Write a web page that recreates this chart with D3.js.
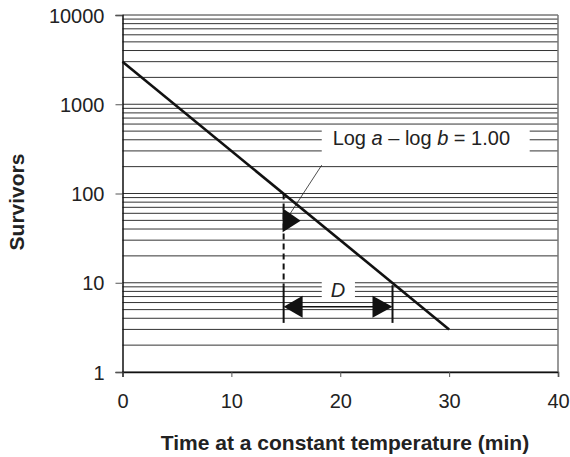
<!DOCTYPE html>
<html>
<head>
<meta charset="utf-8">
<script src="https://cdn.jsdelivr.net/npm/d3@7"></script>
<style>
  body { margin: 0; background: #fff; }
  svg { display: block; font-family: "Liberation Sans", Arial, sans-serif; }
</style>
</head>
<body>
<svg class="canvas" width="570" height="457"></svg>
<script>
// survivor curve (straight line on log scale)
const timeMin = [0, 30];
const survivors = [3000, 3];

// axis ticks
const xTicks = [0, 10, 20, 30, 40];
const yTicks = [1, 10, 100, 1000, 10000];

// horizontal grid: every 1..9 of each decade
const gridValues = [];
[1, 10, 100, 1000].forEach((dec) => {
  for (let m = 1; m < 10; m++) gridValues.push(m * dec);
});
gridValues.push(10000);

// D-value annotation: time where the line passes 100 and 10 survivors
const dTimes = [14.8, 24.8];
const dSurvivors = [100, 10];

const svg = d3.select(".canvas");
const fontSize = "20px";

const x = d3.scaleLinear().domain([0, 40]).range([122.5, 558]);
const y = d3.scaleLog().domain([1, 10000]).range([372, 15]);

// gridlines
svg
  .append("g")
  .selectAll("line")
  .data(gridValues)
  .enter()
  .append("line")
  .attr("x1", x(0))
  .attr("x2", x(40))
  .attr("y1", (d) => y(d))
  .attr("y2", (d) => y(d))
  .attr("stroke", "#333")
  .attr("stroke-width", 1);

// right border
svg
  .append("line")
  .attr("x1", x(40))
  .attr("x2", x(40))
  .attr("y1", y(10000))
  .attr("y2", y(1))
  .attr("stroke", "#777")
  .attr("stroke-width", 1.5);

// white boxes behind the annotation texts
svg
  .append("rect")
  .attr("x", x(18.3))
  .attr("y", y(540))
  .attr("width", x(37.4) - x(18.3))
  .attr("height", y(208) - y(540))
  .attr("fill", "#fff");
svg
  .append("rect")
  .attr("x", x(18.3))
  .attr("y", y(10.8))
  .attr("width", x(21.35) - x(18.3))
  .attr("height", y(6.4) - y(10.8))
  .attr("fill", "#fff");

// axes
const yAxis = d3
  .axisLeft(y)
  .tickValues(yTicks)
  .tickSize(7)
  .tickPadding(11)
  .tickFormat(d3.format("d"));
const gy = svg
  .append("g")
  .attr("transform", `translate(${x(0)}, 0)`)
  .call(yAxis);

const xAxis = d3
  .axisBottom(x)
  .tickValues(xTicks)
  .tickSize(5)
  .tickFormat(d3.format("d"));
const gx = svg
  .append("g")
  .attr("transform", `translate(0, ${y(1)})`)
  .call(xAxis);

[gx, gy].forEach((g) => {
  g.attr("font-size", null);
  g.select(".domain").attr("stroke", "#111").attr("stroke-width", 1.5);
  g.selectAll(".tick line").attr("stroke", "#555");
  g.selectAll(".tick text")
    .attr("fill", "#222")
    .style("font-size", fontSize);
});
gy.selectAll(".tick text").attr("dy", "0.35em");
gx.selectAll(".tick text").attr("y", 36).attr("dy", 0);

// survivor line
const line = d3
  .line()
  .x((d, i) => x(timeMin[i]))
  .y((d) => y(d));
svg
  .append("path")
  .datum(survivors)
  .attr("d", line)
  .attr("fill", "none")
  .attr("stroke", "#111")
  .attr("stroke-width", 2.6);

// dashed drop line from the 100-survivor point
svg
  .append("line")
  .attr("x1", x(dTimes[0]))
  .attr("x2", x(dTimes[0]))
  .attr("y1", y(dSurvivors[0]))
  .attr("y2", y(9.4))
  .attr("stroke", "#111")
  .attr("stroke-width", 2)
  .attr("stroke-dasharray", "6,4");

// end ticks of the D span
dTimes.forEach((t) => {
  svg
    .append("line")
    .attr("x1", x(t))
    .attr("x2", x(t))
    .attr("y1", y(9.4))
    .attr("y2", y(3.55))
    .attr("stroke", "#111")
    .attr("stroke-width", 2);
});

// double arrow for D
const arrowY = y(5.4);
const xl = x(dTimes[0]);
const xr = x(dTimes[1]);
svg
  .append("line")
  .attr("x1", xl + 15)
  .attr("x2", xr - 15)
  .attr("y1", arrowY)
  .attr("y2", arrowY)
  .attr("stroke", "#111")
  .attr("stroke-width", 1.5);
svg
  .append("path")
  .attr("d", `M${xl},${arrowY} L${xl + 19},${arrowY - 11} L${xl + 19},${arrowY + 11} Z`)
  .attr("fill", "#111");
svg
  .append("path")
  .attr("d", `M${xr},${arrowY} L${xr - 20},${arrowY - 11} L${xr - 20},${arrowY + 11} Z`)
  .attr("fill", "#111");

// leader line from the log label and its arrow head
svg
  .append("line")
  .attr("x1", x(18.3))
  .attr("y1", y(208))
  .attr("x2", x(15.3))
  .attr("y2", y(57))
  .attr("stroke", "#222")
  .attr("stroke-width", 0.8);
const tipY = y(49.5);
svg
  .append("path")
  .attr("d", `M${xl - 1},${tipY - 12.5} L${xl - 1},${tipY + 11.5} L${xl + 17},${tipY} Z`)
  .attr("fill", "#111");

// annotation texts
const logLabel = svg
  .append("text")
  .attr("x", x(19.3))
  .attr("y", 145)
  .attr("fill", "#222")
  .style("font-size", fontSize);
logLabel.append("tspan").text("Log ");
logLabel.append("tspan").style("font-style", "italic").text("a");
logLabel.append("tspan").text(" \u2013 log ");
logLabel.append("tspan").style("font-style", "italic").text("b");
logLabel.append("tspan").text(" = 1.00");

svg
  .append("text")
  .attr("x", x(19.8))
  .attr("y", y(6.9))
  .attr("text-anchor", "middle")
  .attr("fill", "#222")
  .style("font-size", fontSize)
  .style("font-style", "italic")
  .text("D");

// axis titles
svg
  .append("text")
  .attr("x", 345)
  .attr("y", 450)
  .attr("text-anchor", "middle")
  .attr("fill", "#222")
  .style("font-size", "21px")
  .style("font-weight", "bold")
  .text("Time at a constant temperature (min)");

svg
  .append("text")
  .attr("transform", "translate(24, 202) rotate(-90)")
  .attr("text-anchor", "middle")
  .attr("fill", "#222")
  .style("font-size", "21px")
  .style("font-weight", "bold")
  .text("Survivors");
</script>
</body>
</html>
